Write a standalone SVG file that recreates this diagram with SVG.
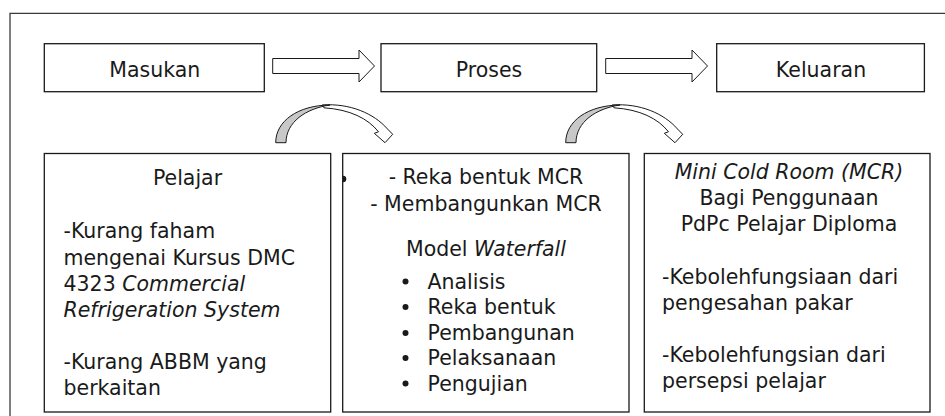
<svg xmlns="http://www.w3.org/2000/svg" xmlns:xlink="http://www.w3.org/1999/xlink" width="945" height="416" viewBox="0 0 945 416">
  <style>
    .frame { fill: none; stroke: #3a3a3a; stroke-width: 1.3; }
    .box { fill: #ffffff; stroke: #1a1a1a; stroke-width: 1.3; }
    .blk { fill: #ffffff; stroke: #1a1a1a; stroke-width: 1; stroke-linejoin: miter; }
    .t { font-family: "DejaVu Sans", "Noto Sans", sans-serif; font-size: 20.5px; fill: #1a1a1a; }
    .c { text-anchor: middle; }
    .i { font-style: italic; }
    .dot { fill: #1a1a1a; }
  </style>
  <defs>
    <!-- curved "next stage" arrow: shaded rising band, white falling band with head -->
    <g id="curve-arrow">
      <path class="blk" d="M322,105 C350,103 374,113.5 387.5,129 L392.7,134.3 L385,142.7 L374.3,133.3 L378.5,131.8 C368,118.5 350,109.5 324,107.8 Z"/>
      <path d="M275.7,142.7 C275.7,121 298,105.3 330,105 C306,108.5 286,122 286,142.7 Z" fill="#c8c8c8" stroke="#1a1a1a" stroke-width="1"/>
    </g>
    <clipPath id="clip-b2">
      <rect x="343" y="170" width="10" height="20"/>
    </clipPath>
  </defs>

  <!-- outer frame (only top and left edges fall inside the canvas) -->
  <path class="frame" d="M10,416 L10,13.3 L945,13.3"/>

  <!-- top row -->
  <g id="masukan">
    <rect class="box" x="44.3" y="43.7" width="220" height="48"/>
    <text class="t c" x="154.8" y="76.5">Masukan</text>
  </g>
  <g id="proses">
    <rect class="box" x="381" y="43.7" width="215.7" height="48"/>
    <text class="t c" x="489" y="76.5">Proses</text>
  </g>
  <g id="keluaran">
    <rect class="box" x="716.7" y="43.7" width="207.7" height="48"/>
    <text class="t c" x="821" y="76.5">Keluaran</text>
  </g>

  <!-- bottom row -->
  <g id="pelajar">
    <rect class="box" x="44.3" y="153.5" width="286.4" height="258.5"/>
    <text class="t c" x="187.5" y="184.5">Pelajar</text>
    <text class="t" x="63.5" y="238">-Kurang faham</text>
    <text class="t" x="63.5" y="264.5">mengenai Kursus DMC</text>
    <text class="t" x="63.5" y="291">4323 <tspan class="i">Commercial</tspan></text>
    <text class="t i" x="63.5" y="317">Refrigeration System</text>
    <text class="t" x="63.5" y="368.5">-Kurang ABBM yang</text>
    <text class="t" x="63.5" y="395">berkaitan</text>
  </g>
  <g id="proses-detail">
    <rect class="box" x="342.7" y="153.5" width="286.3" height="258.5"/>
    <circle class="dot" cx="343" cy="179" r="3.3" clip-path="url(#clip-b2)"/>
    <text class="t c" x="486" y="183.5">- Reka bentuk MCR</text>
    <text class="t c" x="486" y="211">- Membangunkan MCR</text>
    <text class="t c" x="486" y="256">Model <tspan class="i">Waterfall</tspan></text>
    <circle class="dot" cx="405.5" cy="281.5" r="3"/>
    <text class="t" x="427.5" y="288.5">Analisis</text>
    <circle class="dot" cx="405.5" cy="307" r="3"/>
    <text class="t" x="427.5" y="314">Reka bentuk</text>
    <circle class="dot" cx="405.5" cy="333" r="3"/>
    <text class="t" x="427.5" y="340">Pembangunan</text>
    <circle class="dot" cx="405.5" cy="358" r="3"/>
    <text class="t" x="427.5" y="365">Pelaksanaan</text>
    <circle class="dot" cx="405.5" cy="383.5" r="3"/>
    <text class="t" x="427.5" y="390.5">Pengujian</text>
  </g>
  <g id="keluaran-detail">
    <rect class="box" x="644.3" y="153.5" width="285.7" height="258.5"/>
    <text class="t c i" x="789" y="179">Mini Cold Room (MCR)</text>
    <text class="t c" x="789" y="205">Bagi Penggunaan</text>
    <text class="t c" x="789" y="231">PdPc Pelajar Diploma</text>
    <text class="t" x="662" y="284">-Kebolehfungsiaan dari</text>
    <text class="t" x="662" y="310">pengesahan pakar</text>
    <text class="t" x="662" y="361.5">-Kebolehfungsian dari</text>
    <text class="t" x="662" y="387.5">persepsi pelajar</text>
  </g>

  <!-- connectors -->
  <g id="connectors">
    <polygon class="blk" points="272.7,58.5 359,58.5 359,50 374.5,66 359,82 359,73.5 272.7,73.5"/>
    <polygon class="blk" points="605.7,58.5 692,58.5 692,50 707.5,66 692,82 692,73.5 605.7,73.5"/>
    <use xlink:href="#curve-arrow"/>
    <use xlink:href="#curve-arrow" transform="translate(290,0)"/>
  </g>
</svg>
